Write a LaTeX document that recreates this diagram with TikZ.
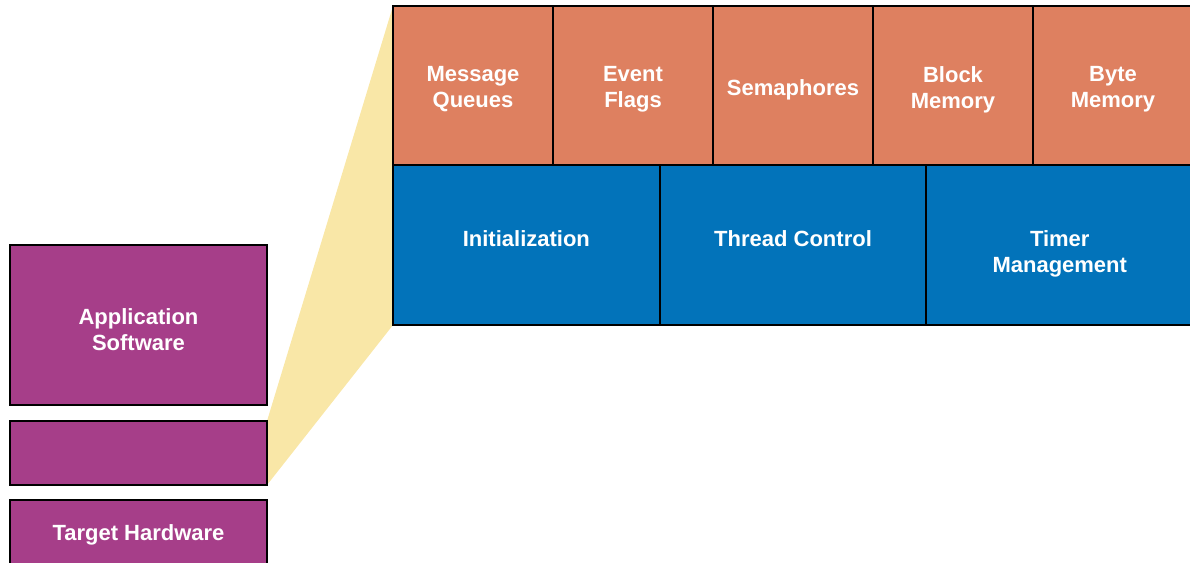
\documentclass[tikz,border=0pt]{standalone}
\usepackage{fontspec}
\setmainfont{Liberation Sans}
\usetikzlibrary{positioning, backgrounds}
\definecolor{appPurple}{RGB}{166, 62, 137}
\definecolor{svcOrange}{RGB}{222, 128, 96}
\definecolor{coreBlue}{RGB}{2, 115, 186}
\definecolor{zoomYellow}{RGB}{249, 231, 167}

\begin{document}
\begin{tikzpicture}[x=1pt, y=-1pt, node distance=0pt,
    box/.style={draw=black, line width=2pt, inner sep=0pt, outer sep=0pt},
    boxtext/.style={text=white, align=center, inner sep=0pt,
      font=\fontsize{22}{26}\selectfont\bfseries, yshift=-4pt},
    coretext/.style={boxtext, anchor=north, yshift=10pt},
    layerbox/.style={box, fill=appPurple, minimum width=257pt},
    svcbox/.style={box, fill=svcOrange, minimum width=160pt, minimum height=159pt},
    corebox/.style={box, fill=coreBlue, minimum width=266.7pt, minimum height=160pt}]
  \useasboundingbox (0,0) rectangle (1190,562);

  % left stack
  \node[layerbox, minimum height=160pt, anchor=north west,
    label={[boxtext, yshift=-1pt]center:{Application\\Software}}] (app) at (10,245) {};
  \node[layerbox, minimum height=64pt, below=16pt of app] (rtos) {};
  \node[layerbox, minimum height=66pt, below=15pt of rtos,
    label={[boxtext, yshift=2pt]center:Target Hardware}] (hw) {};

  % services row
  \node[svcbox, anchor=north west, label={[boxtext]center:{Message\\Queues}}] (msgq) at (393,6) {};
  \node[svcbox, right=of msgq, label={[boxtext]center:{Event\\Flags}}] (evflags) {};
  \node[svcbox, right=of evflags, label={[boxtext]center:Semaphores}] (sema) {};
  \node[svcbox, right=of sema, label={[boxtext]center:{Block\\Memory}}] (blkmem) {};
  \node[svcbox, right=of blkmem, label={[boxtext]center:{Byte\\Memory}}] (bytemem) {};

  % core row
  \node[corebox, anchor=north west, label={[coretext]center:Initialization}] (init) at (msgq.south west) {};
  \node[corebox, right=of init, label={[coretext]center:Thread Control}] (thread) {};
  \node[corebox, right=of thread, label={[coretext, yshift=-15pt]center:{Timer\\Management}}] (timer) {};

  % zoom wedge
  \begin{scope}[on background layer]
    \fill[zoomYellow] (msgq.north west) -- (init.south west)
      -- (rtos.south east) -- (rtos.north east) -- cycle;
  \end{scope}
\end{tikzpicture}
\end{document}
